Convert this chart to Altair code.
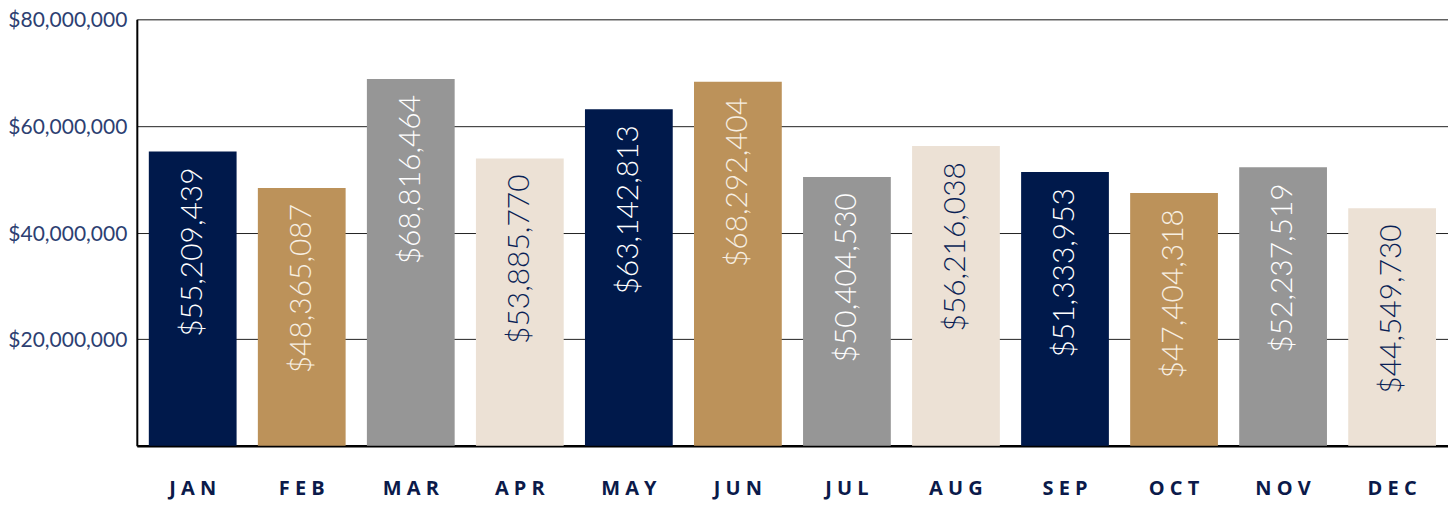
import altair as alt
import pandas as pd

months = ["JAN", "FEB", "MAR", "APR", "MAY", "JUN", "JUL", "AUG", "SEP", "OCT", "NOV", "DEC"]
values = [55209439, 48365087, 68816464, 53885770, 63142813, 68292404,
          50404530, 56216038, 51333953, 47404318, 52237519, 44549730]
bar_colors = ["#00194b", "#bc925a", "#969696", "#ece1d5"] * 3
text_colors = ["#ffffff", "#f7efe2", "#ffffff", "#0a1f55"] * 3
y_ticks = [0, 20000000, 40000000, 60000000, 80000000]

df = pd.DataFrame({"month": months, "value": values})

x = alt.X("month:N", sort=months, title=None,
          scale=alt.Scale(paddingInner=0.195, paddingOuter=0.11),
          axis=alt.Axis(labelAngle=0, ticks=False, domainColor="#000000", domainWidth=2.5,
                        labelFont="Open Sans", labelFontWeight="bold", labelFontSize=20,
                        labelColor="#0b1a4a", labelPadding=33,
                        labelExpr="join(split(datum.label, ''), ' ')"))
y = alt.Y("value:Q", title=None,
          scale=alt.Scale(domain=[0, 80000000], nice=False),
          axis=alt.Axis(values=y_ticks, ticks=False, domainColor="#000000", domainWidth=2,
                        grid=True, gridColor="#222222", gridWidth=1,
                        labelFont="Lato", labelFontWeight=400, labelFontSize=21,
                        labelColor="#2d3f72", labelPadding=10, labelOffset=1.5,
                        labelExpr="datum.value == 0 ? '' : '$' + format(datum.value, ',')"))

bars = alt.Chart(df).mark_bar().encode(
    x=x, y=y,
    color=alt.Color("month:N", scale=alt.Scale(domain=months, range=bar_colors), legend=None),
)

labels = alt.Chart(df).mark_text(
    angle=270, align="right", baseline="middle", dx=-16,
    font="Lato", fontWeight=300, fontSize=30,
).encode(
    x=alt.X("month:N", sort=months),
    y=alt.Y("value:Q"),
    text=alt.Text("value:Q", format="$,"),
    color=alt.Color("month:N", scale=alt.Scale(domain=months, range=text_colors), legend=None),
)

chart = alt.layer(bars, labels).resolve_scale(color="independent").properties(
    width=1313, height=427,
    autosize=alt.AutoSizeParams(type="none"),
    padding={"left": 129, "top": 11, "right": 0, "bottom": 58},
).configure_view(stroke=None).configure(background="#ffffff")

chart.save("out.html", embed_options={"renderer": "svg", "actions": False})
